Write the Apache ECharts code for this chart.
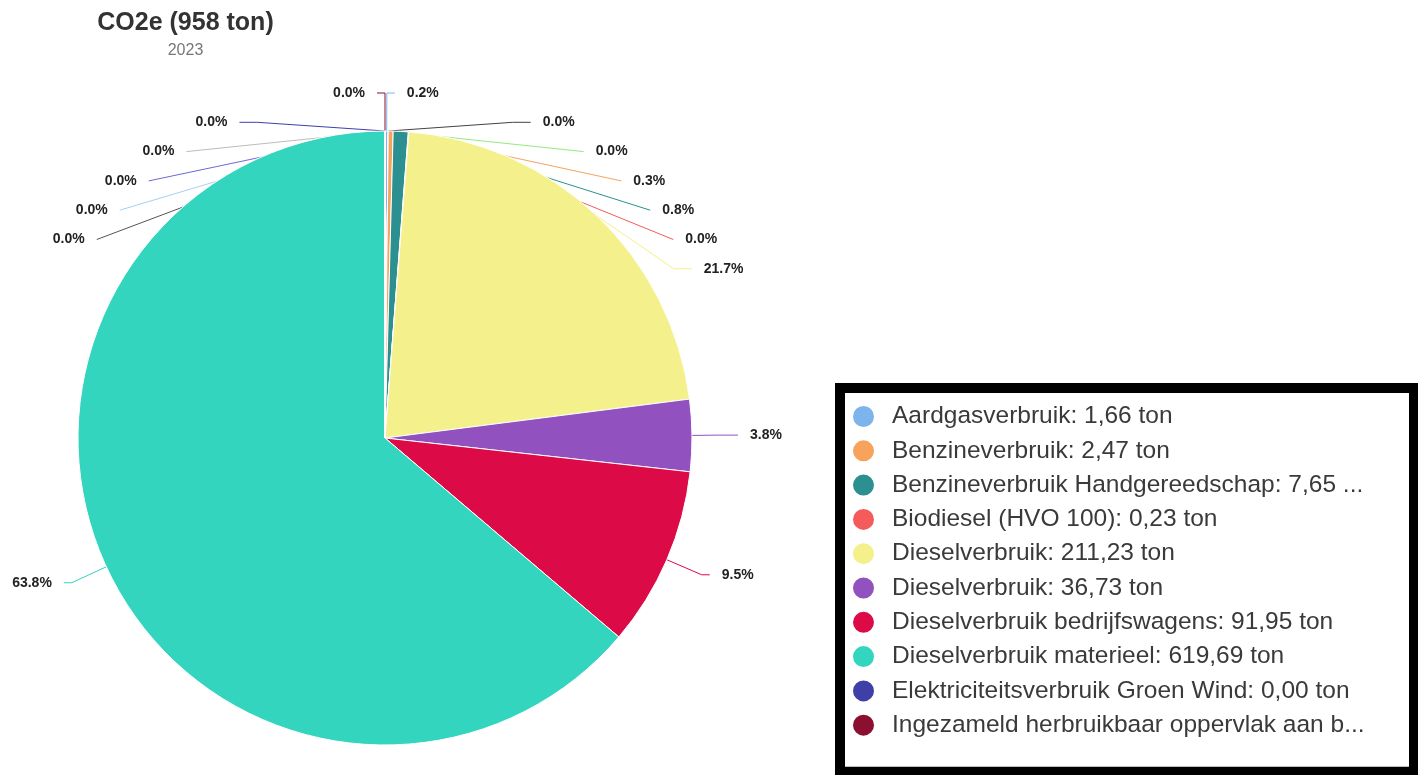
<!DOCTYPE html>
<html>
<head>
<meta charset="utf-8">
<script src="https://cdn.jsdelivr.net/npm/echarts@6/dist/echarts.min.js"></script>
<style>
html,body{margin:0;padding:0;background:#fff;}
#chart{width:1418px;height:775px;}
</style>
</head>
<body>
<div id="chart"></div>
<script>
// Categories (pie order, clockwise from 12 o'clock)
const categories = [
  'Aardgasverbruik: 1,66 ton',
  'Overig A',
  'Overig B',
  'Benzineverbruik: 2,47 ton',
  'Benzineverbruik Handgereedschap: 7,65 ton',
  'Biodiesel (HVO 100): 0,23 ton',
  'Dieselverbruik: 211,23 ton',
  'Dieselverbruik: 36,73 ton',
  'Dieselverbruik bedrijfswagens: 91,95 ton',
  'Dieselverbruik materieel: 619,69 ton',
  'Ingezameld herbruikbaar oppervlak aan bitumen',
  'Elektriciteitsverbruik Groen Wind: 0,00 ton',
  'Overig C', 'Overig D', 'Overig E', 'Overig F'
];
// Values in ton CO2e
const values = [1.66, 0, 0, 2.47, 7.65, 0.23, 211.23, 36.73, 91.95, 619.69, 0, 0, 0, 0, 0, 0];
// Slice colours
const colors = ['#7cb5ec', '#434348', '#90ed7d', '#f7a35c', '#2b908f', '#f45b5b', '#f4f08b', '#9152c0',
  '#dc0a46', '#34d5bf', '#8b0f30', '#3f3fa8', '#bdbdbd', '#6a6ad8', '#a8d0f0', '#555555'];
// Legend entries shown in the box (alphabetical)
const legendItems = [
  'Aardgasverbruik: 1,66 ton',
  'Benzineverbruik: 2,47 ton',
  'Benzineverbruik Handgereedschap: 7,65 ton',
  'Biodiesel (HVO 100): 0,23 ton',
  'Dieselverbruik: 211,23 ton',
  'Dieselverbruik: 36,73 ton',
  'Dieselverbruik bedrijfswagens: 91,95 ton',
  'Dieselverbruik materieel: 619,69 ton',
  'Elektriciteitsverbruik Groen Wind: 0,00 ton',
  'Ingezameld herbruikbaar oppervlak aan bitumen'
];
const titleText = 'CO2e (958 ton)';
const subtitleText = '2023';

const chart = echarts.init(document.getElementById('chart'));
chart.setOption({
  backgroundColor: '#fff',
  animation: false,
  title: {
    text: titleText,
    subtext: subtitleText,
    left: 180.5,
    top: 6,
    textAlign: 'center',
    itemGap: 7,
    textStyle: {fontFamily: 'Liberation Sans', fontSize: 25, fontWeight: 'bold', color: '#333'},
    subtextStyle: {fontFamily: 'Liberation Sans', fontSize: 16, color: '#777'}
  },
  legend: {
    orient: 'vertical',
    left: 840,
    top: 388,
    height: 342,
    data: legendItems,
    icon: 'circle',
    itemWidth: 23,
    itemHeight: 23,
    itemGap: 9.3,
    padding: [16, 48, 34, 11],
    borderColor: '#000',
    borderWidth: 10,
    backgroundColor: '#fff',
    selectedMode: false,
    textStyle: {
      fontFamily: 'Liberation Sans', fontSize: 24.5, color: '#3a3a3a',
      lineHeight: 24, width: 474, overflow: 'truncate', padding: [0, 0, 0, 12]
    }
  },
  series: [{
    type: 'pie',
    center: [385, 438],
    radius: 307,
    startAngle: 90,
    clockwise: true,
    data: categories.map((n, i) => {
      const d = {name: n, value: values[i], itemStyle: {color: colors[i]}};
      if (i === 7) d.labelLine = {length2: 20};
      else if ((i >= 1 && i <= 6) || i >= 11) d.labelLine = {length2: 18};
      return d;
    }),
    itemStyle: {borderColor: '#fff', borderWidth: 1},
    label: {
      formatter: p => p.percent.toFixed(1) + '%',
      fontFamily: 'Liberation Sans', fontSize: 14, fontWeight: 'bold', color: '#222',
      lineHeight: 27.3,
      distanceToLabelLine: 12
    },
    labelLine: {length: 38, length2: 8, lineStyle: {width: 1}},
    emphasis: {disabled: true}
  }]
});
</script>
</body>
</html>
